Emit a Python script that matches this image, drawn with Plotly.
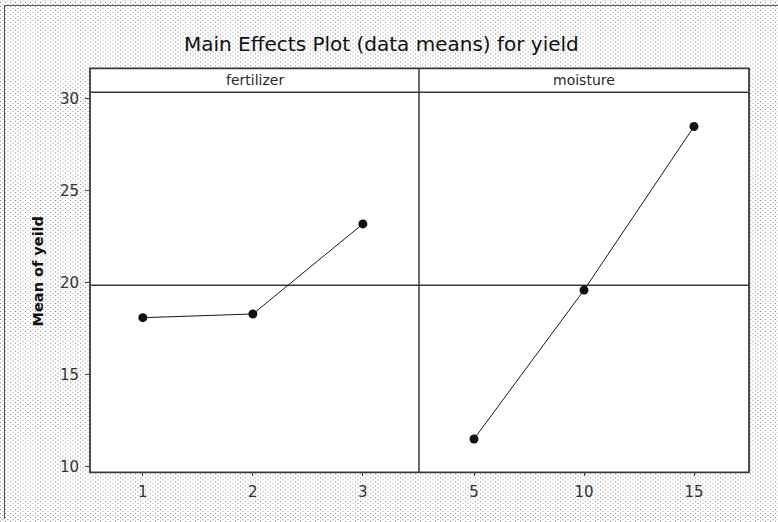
import base64
import numpy as np
import plotly.graph_objects as go

# Main effects data (means of yield at each factor level)
fertilizer_levels = ["1", "2", "3"]
fertilizer_means = [18.1, 18.3, 23.2]
moisture_levels = ["5", "10", "15"]
moisture_means = [11.5, 19.6, 28.5]
y_ticks = [10, 15, 20, 25, 30]

grand_mean = float(np.mean(fertilizer_means))

W, H = 778, 522


def px(x):
    return x / W


def py(y):
    return 1 - y / H


# stippled page background as a tiled svg pattern
svg = (
    f'<svg xmlns="http://www.w3.org/2000/svg" width="{W}" height="{H + 4}">'
    '<defs><pattern id="p" width="5" height="4" patternUnits="userSpaceOnUse">'
    '<rect width="5" height="4" fill="#ffffff"/>'
    '<rect x="0" y="0" width="1" height="1" fill="#8a8a8a"/>'
    '<rect x="2.5" y="2" width="1" height="1" fill="#969696"/>'
    '</pattern></defs>'
    f'<rect width="{W}" height="{H + 4}" fill="url(#p)"/></svg>'
)
bg_uri = "data:image/svg+xml;base64," + base64.b64encode(svg.encode()).decode()

LEFT, MID, RIGHT = 90, 419, 749
TOP, STRIP_BOT, BOT = 67, 91, 475
FRAME = "#3a3a3a"
TXT = "#2a2a2a"

fig = go.Figure()

line_style = dict(color="#1a1a1a", width=1)
marker_style = dict(color="#111111", size=9, symbol="circle")

fig.add_trace(go.Scatter(
    x=fertilizer_levels, y=fertilizer_means, xaxis="x", yaxis="y",
    mode="lines+markers", line=line_style, marker=marker_style,
    showlegend=False, hoverinfo="x+y",
))
fig.add_trace(go.Scatter(
    x=moisture_levels, y=moisture_means, xaxis="x2", yaxis="y",
    mode="lines+markers", line=line_style, marker=marker_style,
    showlegend=False, hoverinfo="x+y",
))

tick_font = dict(family="DejaVu Sans", size=15, color="#333333")
xcommon = dict(
    type="category", showgrid=False, zeroline=False, showline=False,
    ticks="outside", ticklen=3, tickwidth=1, tickcolor="#444444",
    tickfont=tick_font, ticklabelstandoff=3, fixedrange=True,
)

fig.update_layout(
    width=W, height=H,
    margin=dict(l=0, r=0, t=0, b=0),
    paper_bgcolor="#f0f0f0",
    plot_bgcolor="rgba(0,0,0,0)",
    xaxis=dict(domain=[px(LEFT), px(MID)], range=[-0.48, 2.51],
               categoryorder="array", categoryarray=fertilizer_levels,
               anchor="y", **xcommon),
    xaxis2=dict(domain=[px(MID), px(RIGHT)], range=[-0.5, 2.5],
                categoryorder="array", categoryarray=moisture_levels,
                anchor="y", **xcommon),
    yaxis=dict(domain=[py(BOT), py(STRIP_BOT)], range=[9.68, 30.37],
               tickvals=y_ticks, ticktext=[str(t) for t in y_ticks],
               showgrid=False, zeroline=False, showline=False,
               ticks="outside", ticklen=4, tickwidth=1, tickcolor="#444444",
               tickfont=tick_font, ticklabelstandoff=3, fixedrange=True),
    images=[dict(source=bg_uri, xref="paper", yref="paper", x=0, y=1,
                 sizex=1, sizey=(H + 4) / H, xanchor="left", yanchor="top",
                 sizing="stretch", layer="below")],
)

shapes = []
# white panel and strip areas
shapes.append(dict(type="rect", xref="paper", yref="paper", layer="below",
                   x0=px(LEFT), x1=px(RIGHT), y0=py(BOT), y1=py(TOP),
                   fillcolor="white", line=dict(width=0)))
# reference line at the grand mean
shapes.append(dict(type="line", xref="paper", yref="y", layer="below",
                   x0=px(LEFT), x1=px(RIGHT), y0=grand_mean, y1=grand_mean,
                   line=dict(color=FRAME, width=1.5)))
# panel frames, strip separator and divider
shapes.append(dict(type="rect", xref="paper", yref="paper",
                   x0=px(LEFT), x1=px(RIGHT), y0=py(BOT), y1=py(TOP),
                   line=dict(color=FRAME, width=1.8)))
shapes.append(dict(type="line", xref="paper", yref="paper",
                   x0=px(LEFT), x1=px(RIGHT), y0=py(STRIP_BOT), y1=py(STRIP_BOT),
                   line=dict(color=FRAME, width=1.5)))
shapes.append(dict(type="line", xref="paper", yref="paper",
                   x0=px(MID), x1=px(MID), y0=py(BOT), y1=py(TOP),
                   line=dict(color=FRAME, width=1.5)))
# outer page border
shapes.append(dict(type="line", xref="paper", yref="paper",
                   x0=px(4.5), x1=1.0, y0=py(3.5), y1=py(3.5),
                   line=dict(color="#555555", width=1)))
shapes.append(dict(type="line", xref="paper", yref="paper",
                   x0=px(4.5), x1=px(4.5), y0=0.0, y1=py(3.5),
                   line=dict(color="#555555", width=1)))
fig.update_layout(shapes=shapes)

annotations = [
    dict(text="Main Effects Plot (data means) for yield",
         xref="paper", yref="paper", x=px(381), y=py(42),
         xanchor="center", yanchor="middle", showarrow=False,
         font=dict(family="DejaVu Sans", size=20, color="#111111")),
    dict(text="fertilizer", xref="paper", yref="paper",
         x=px((LEFT + MID) / 2), y=py((TOP + STRIP_BOT) / 2),
         xanchor="center", yanchor="middle", showarrow=False,
         font=dict(family="DejaVu Sans", size=14, color=TXT)),
    dict(text="moisture", xref="paper", yref="paper",
         x=px((MID + RIGHT) / 2), y=py((TOP + STRIP_BOT) / 2),
         xanchor="center", yanchor="middle", showarrow=False,
         font=dict(family="DejaVu Sans", size=14, color=TXT)),
    dict(text="<b>Mean of yeild</b>", xref="paper", yref="paper",
         x=px(38), y=py(272), textangle=-90,
         xanchor="center", yanchor="middle", showarrow=False,
         font=dict(family="DejaVu Sans", size=14.5, color="#111111")),
]
fig.update_layout(annotations=annotations)

fig.write_html("out.html")
